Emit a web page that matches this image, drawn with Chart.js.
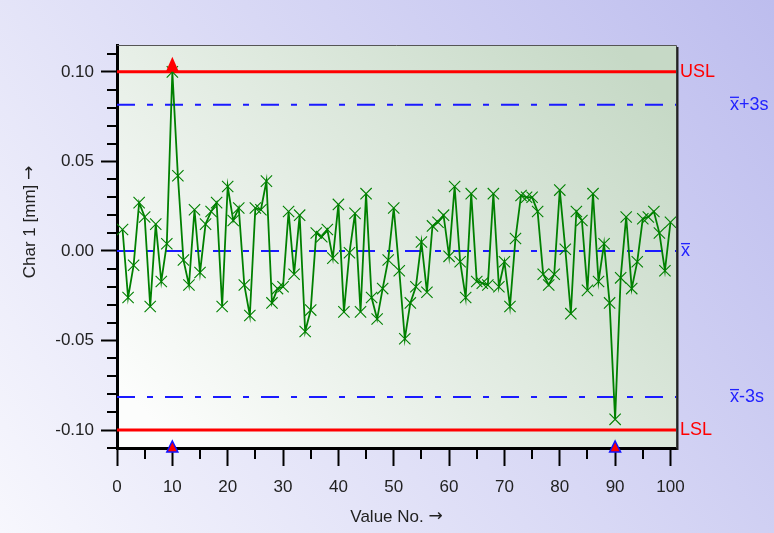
<!DOCTYPE html>
<html><head><meta charset="utf-8">
<script src="https://cdn.jsdelivr.net/npm/chart.js@4/dist/chart.umd.min.js"></script>
<style>html,body{margin:0;padding:0;background:#fff;overflow:hidden}#wrap{width:774px;height:533px;position:relative}</style>
</head><body><div id="wrap"><canvas id="c" width="774" height="533"></canvas></div>
<script>
// ---- data ----
const valueNo = Array.from({length: 100}, (_, i) => i + 1);
const char1 = [
  0.012,-0.026,-0.008, 0.027, 0.019,-0.031, 0.015,-0.017, 0.004, 0.100,
  0.042,-0.005,-0.019, 0.023,-0.012, 0.015, 0.022, 0.027,-0.031, 0.036,
  0.017, 0.024,-0.019,-0.036, 0.024, 0.023, 0.039,-0.029,-0.021,-0.020,
  0.022,-0.013, 0.020,-0.045,-0.033, 0.010, 0.008, 0.012,-0.004, 0.026,
 -0.034,-0.001, 0.021,-0.034, 0.032,-0.026,-0.038,-0.021,-0.005, 0.024,
 -0.011,-0.049,-0.029,-0.020, 0.005,-0.023, 0.014, 0.016, 0.020,-0.003,
  0.036,-0.006,-0.026, 0.032,-0.017,-0.018,-0.019, 0.032,-0.020,-0.006,
 -0.031, 0.007, 0.031, 0.030, 0.030, 0.022,-0.013,-0.019,-0.013, 0.034,
  0.001,-0.035, 0.022, 0.017,-0.022, 0.032,-0.017, 0.004,-0.029,-0.094,
 -0.015, 0.019,-0.021,-0.006, 0.018, 0.019, 0.022, 0.010,-0.011, 0.016
];
const USL = 0.10;
const LSL = -0.10;
const xBar = 0.0;
const upper3s = 0.0817;
const lower3s = -0.0815;
const yTickValues = [-0.10, -0.05, 0.00, 0.05, 0.10];
const xTickValues = [0, 10, 20, 30, 40, 50, 60, 70, 80, 90, 100];
const xMinorValues = [5, 15, 25, 35, 45, 55, 65, 75, 85, 95];
const yMinorValues = [-0.11,-0.09,-0.08,-0.07,-0.06,-0.04,-0.03,-0.02,-0.01,0.01,0.02,0.03,0.04,0.06,0.07,0.08,0.09,0.11];
const upperViolations = [10];
const lowerMarks = [10, 90];
const X_MIN = 0, X_MAX = 101, Y_MIN = -0.11, Y_MAX = 0.115;

const FONT = "'Liberation Sans', Arial, sans-serif";
const ARROW_FONT = "'DejaVu Sans', sans-serif";
const hLine = (v) => [{x: X_MIN, y: v}, {x: X_MAX, y: v}];
const dashPattern = [18, 12, 6, 12];

function drawTitle(ctx, text, cx, cy, size) {
  ctx.font = size + 'px ' + FONT;
  const w1 = ctx.measureText(text + ' ').width;
  ctx.font = size + 'px ' + ARROW_FONT;
  const w2 = ctx.measureText('\u2192').width;
  let x0 = cx - (w1 + w2) / 2;
  ctx.textAlign = 'left';
  ctx.font = size + 'px ' + FONT;
  ctx.fillText(text + ' ', x0, cy);
  ctx.font = size + 'px ' + ARROW_FONT;
  ctx.fillText('\u2192', x0 + w1, cy);
}

const bgPlugin = {
  id: 'bg',
  beforeDraw(chart) {
    const {ctx, width, height, chartArea: a} = chart;
    ctx.save();
    const g = ctx.createLinearGradient(0, height, width, 0);
    g.addColorStop(0, '#f7f7fd');
    g.addColorStop(1, '#bdbdee');
    ctx.fillStyle = g;
    ctx.fillRect(0, 0, width, height);
    const p = ctx.createLinearGradient(a.left + 60, a.bottom, a.right - 60, a.top);
    p.addColorStop(0, '#fcfdfc');
    p.addColorStop(1, '#c6d9c6');
    ctx.fillStyle = p;
    ctx.fillRect(a.left, a.top, a.right - a.left, a.bottom - a.top);
    ctx.restore();
  },
  afterDraw(chart) {
    const {ctx, chartArea: a, scales: {x, y}} = chart;
    ctx.save();
    // frame: top + right
    ctx.strokeStyle = '#555';
    ctx.lineWidth = 1;
    ctx.beginPath();
    ctx.moveTo(a.left, a.top + 0.5); ctx.lineTo(a.right + 0.5, a.top + 0.5); ctx.lineTo(a.right + 0.5, a.bottom);
    ctx.stroke();
    ctx.strokeStyle = '#222';
    ctx.lineWidth = 2;
    ctx.beginPath();
    ctx.moveTo(a.right + 1.5, a.top + 2); ctx.lineTo(a.right + 1.5, a.bottom + 2);
    ctx.stroke();
    // minor ticks
    ctx.strokeStyle = '#000';
    ctx.lineWidth = 2;
    ctx.beginPath();
    xMinorValues.forEach(v => { const px = Math.round(x.getPixelForValue(v)); ctx.moveTo(px, a.bottom); ctx.lineTo(px, a.bottom + 11); });
    yMinorValues.forEach(v => { const py = Math.round(y.getPixelForValue(v)); ctx.moveTo(a.left, py); ctx.lineTo(a.left - 10, py); });
    ctx.stroke();
    // violation markers
    const tri = (cx, baseY, w, h, fill, stroke) => {
      ctx.beginPath();
      ctx.moveTo(cx, baseY - h); ctx.lineTo(cx + w / 2, baseY); ctx.lineTo(cx - w / 2, baseY); ctx.closePath();
      ctx.fillStyle = fill; ctx.fill();
      if (stroke) { ctx.strokeStyle = stroke; ctx.lineWidth = 1.5; ctx.stroke(); }
    };
    upperViolations.forEach(v => tri(x.getPixelForValue(v), y.getPixelForValue(USL), 13, 15, '#ff0000'));
    lowerMarks.forEach(v => tri(x.getPixelForValue(v), y.getPixelForValue(Y_MIN) + 4, 11, 11, '#ff0000', '#1010ff'));
    // right labels
    ctx.font = '18px ' + FONT;
    ctx.textBaseline = 'middle';
    ctx.textAlign = 'left';
    const lx = a.right + 4;
    ctx.fillStyle = '#ff0000';
    ctx.fillText('USL', lx, y.getPixelForValue(USL));
    ctx.fillText('LSL', lx, y.getPixelForValue(LSL));
    ctx.fillStyle = '#2222ff';
    const xbarLabel = (px, py, suffix) => {
      ctx.fillText('x', px, py);
      const w = ctx.measureText('x').width;
      ctx.fillRect(px, py - 8, w, 1.3);
      if (suffix) ctx.fillText(suffix, px + w, py);
    };
    xbarLabel(lx + 1, y.getPixelForValue(xBar), '');
    xbarLabel(a.right + 54, y.getPixelForValue(upper3s), '+3s');
    xbarLabel(a.right + 54, y.getPixelForValue(lower3s), '-3s');
    // axis titles
    ctx.fillStyle = '#222';
    drawTitle(ctx, 'Value No.', (a.left + a.right) / 2, 517, 17);
    ctx.translate(30, 222);
    ctx.rotate(-Math.PI / 2);
    drawTitle(ctx, 'Char 1 [mm]', 0, 0, 17);
    ctx.restore();
  }
};

new Chart(document.getElementById('c'), {
  type: 'line',
  data: {
    datasets: [
      { data: valueNo.map((v, i) => ({x: v, y: char1[i]})), borderColor: '#008000', borderWidth: 1.8,
        pointStyle: 'crossRot', pointRadius: 8, pointBorderColor: '#008000', pointBorderWidth: 1.1, tension: 0 },
      { data: hLine(USL), borderColor: '#ff0000', borderWidth: 3, pointRadius: 0 },
      { data: hLine(LSL), borderColor: '#ff0000', borderWidth: 3, pointRadius: 0 },
      { data: hLine(xBar), borderColor: '#1a1aff', borderWidth: 2, borderDash: dashPattern, pointRadius: 0 },
      { data: hLine(upper3s), borderColor: '#1a1aff', borderWidth: 2, borderDash: dashPattern, pointRadius: 0 },
      { data: hLine(lower3s), borderColor: '#1a1aff', borderWidth: 2, borderDash: dashPattern, pointRadius: 0 }
    ]
  },
  options: {
    responsive: false, animation: false, devicePixelRatio: 1,
    layout: { padding: { left: 0, top: 45, right: 98, bottom: 0 } },
    plugins: { legend: { display: false }, tooltip: { enabled: false } },
    scales: {
      x: {
        type: 'linear', min: X_MIN, max: X_MAX, position: 'bottom',
        afterFit: s => { s.height = 85; },
        afterBuildTicks: s => { s.ticks = xTickValues.map(v => ({value: v})); },
        grid: { drawOnChartArea: false, drawTicks: true, tickLength: 18, tickColor: '#000', tickWidth: 2 },
        border: { display: true, color: '#000', width: 3 },
        ticks: { font: { family: FONT, size: 17 }, color: '#222', padding: 11, maxRotation: 0, autoSkip: false,
                 callback: v => String(v) }
      },
      y: {
        type: 'linear', min: Y_MIN, max: Y_MAX,
        afterFit: s => { s.width = 117; },
        afterBuildTicks: s => { s.ticks = yTickValues.map(v => ({value: v})); },
        grid: { drawOnChartArea: false, drawTicks: true, tickLength: 16, tickColor: '#000', tickWidth: 2 },
        border: { display: true, color: '#000', width: 3 },
        ticks: { font: { family: FONT, size: 17 }, color: '#222', padding: 7, autoSkip: false,
                 callback: v => Number(v).toFixed(2) }
      }
    }
  },
  plugins: [bgPlugin]
});
</script>
</body></html>
